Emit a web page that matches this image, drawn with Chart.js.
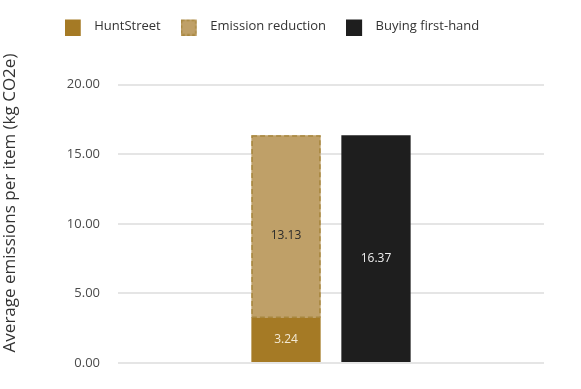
<!DOCTYPE html>
<html>
<head>
<meta charset="utf-8">
<script src="https://cdn.jsdelivr.net/npm/chart.js@4/dist/chart.umd.min.js"></script>
<style>
  html, body { margin: 0; padding: 0; background: #ffffff; }
  #wrap { width: 581px; height: 389px; }
</style>
</head>
<body>
<div id="wrap"><canvas id="c"></canvas></div>
<script>
// ---- data ----
const categories = [''];
const seriesNames = ['HuntStreet', 'Emission reduction', 'Buying first-hand'];
const huntStreet = [3.24];
const emissionReduction = [13.13];
const buyingFirstHand = [16.37];
const yTickValues = [0, 5, 10, 15, 20];
const yAxisTitle = 'Average emissions per item (kg CO2e)';

const FONT = '"Open Sans", "Liberation Sans", sans-serif';

// legend swatch: square box on the left, transparent gap on the right
function swatch(fill, stroke, dash) {
  const c = document.createElement('canvas');
  c.width = 23; c.height = 18;
  const g = c.getContext('2d');
  g.fillStyle = fill;
  g.fillRect(0, 2, 16, 16);
  if (stroke) {
    g.strokeStyle = stroke;
    g.lineWidth = 1.5;
    g.setLineDash(dash);
    g.strokeRect(0.75, 2.75, 14.5, 14.5);
  }
  return c;
}

const valueLabels = {
  id: 'valueLabels',
  afterDatasetsDraw(chart) {
    const ctx = chart.ctx;
    chart.data.datasets.forEach((ds, i) => {
      const meta = chart.getDatasetMeta(i);
      if (meta.hidden) return;
      meta.data.forEach((bar, j) => {
        const p = bar.getProps(['x', 'y', 'base'], true);
        ctx.save();
        ctx.font = '12px ' + FONT;
        ctx.fillStyle = ds.labelColor;
        ctx.textAlign = 'center';
        ctx.textBaseline = 'middle';
        ctx.fillText(ds.data[j].toFixed(2), p.x, (p.y + p.base) / 2 + (ds.labelShift || 0));
        ctx.restore();
      });
    });
  }
};

const dashedBorders = {
  id: 'dashedBorders',
  afterDatasetsDraw(chart) {
    const ctx = chart.ctx;
    chart.data.datasets.forEach((ds, i) => {
      if (!ds.dashColor) return;
      const meta = chart.getDatasetMeta(i);
      meta.data.forEach((bar) => {
        const p = bar.getProps(['x', 'y', 'base', 'width'], true);
        ctx.save();
        ctx.strokeStyle = ds.dashColor;
        ctx.lineWidth = 1.5;
        ctx.setLineDash([5, 3]);
        ctx.strokeRect(p.x - p.width / 2 + 0.75, p.y + 0.75, p.width - 1.5, p.base - p.y - 1.5);
        ctx.restore();
      });
    });
  }
};

new Chart(document.getElementById('c'), {
  type: 'bar',
  data: {
    labels: categories,
    datasets: [
      { label: seriesNames[0], data: huntStreet, stack: 'a', backgroundColor: '#a57a25', labelColor: '#f3ead6' },
      { label: seriesNames[1], data: emissionReduction, stack: 'a', backgroundColor: '#bfa068', dashColor: '#a8873f', labelColor: '#2b2b2b', labelShift: 9 },
      { label: seriesNames[2], data: buyingFirstHand, stack: 'b', backgroundColor: '#1e1e1e', labelColor: '#eeeeee', labelShift: 9.5 }
    ]
  },
  options: {
    responsive: true,
    maintainAspectRatio: false,
    animation: false,
    categoryPercentage: 0.4225,
    barPercentage: 0.77,
    layout: { padding: { right: 37, bottom: 26 } },
    plugins: {
      tooltip: { enabled: false },
      legend: {
        position: 'top',
        labels: {
          usePointStyle: true,
          pointStyleWidth: 23,
          boxHeight: 16,
          padding: 20,
          color: '#333333',
          font: { family: FONT, size: 13 },
          generateLabels(chart) {
            const items = Chart.defaults.plugins.legend.labels.generateLabels(chart);
            items.forEach((it, i) => {
              const ds = chart.data.datasets[i];
              it.pointStyle = ds.dashColor
                ? swatch(ds.backgroundColor, ds.dashColor, [3, 2])
                : swatch(ds.backgroundColor);
              it.lineWidth = 0;
            });
            return items;
          }
        }
      }
    },
    scales: {
      x: {
        stacked: true,
        display: false
      },
      y: {
        stacked: true,
        min: 0,
        max: 23,
        afterBuildTicks(scale) {
          scale.ticks = yTickValues.map(v => ({ value: v }));
        },
        afterFit(scale) { scale.width = 118; },
        border: { display: false },
        grid: { color: '#e5e5e5', lineWidth: 2, drawTicks: false },
        ticks: {
          padding: 18,
          color: '#4a4a4a',
          font: { family: FONT, size: 13 },
          callback: (v) => Number(v).toFixed(2)
        },
        title: {
          display: true,
          text: yAxisTitle,
          color: '#333333',
          font: { family: FONT, size: 17 },
          padding: { top: 0, bottom: 0 }
        }
      }
    }
  },
  plugins: [dashedBorders, valueLabels]
});
</script>
</body>
</html>
